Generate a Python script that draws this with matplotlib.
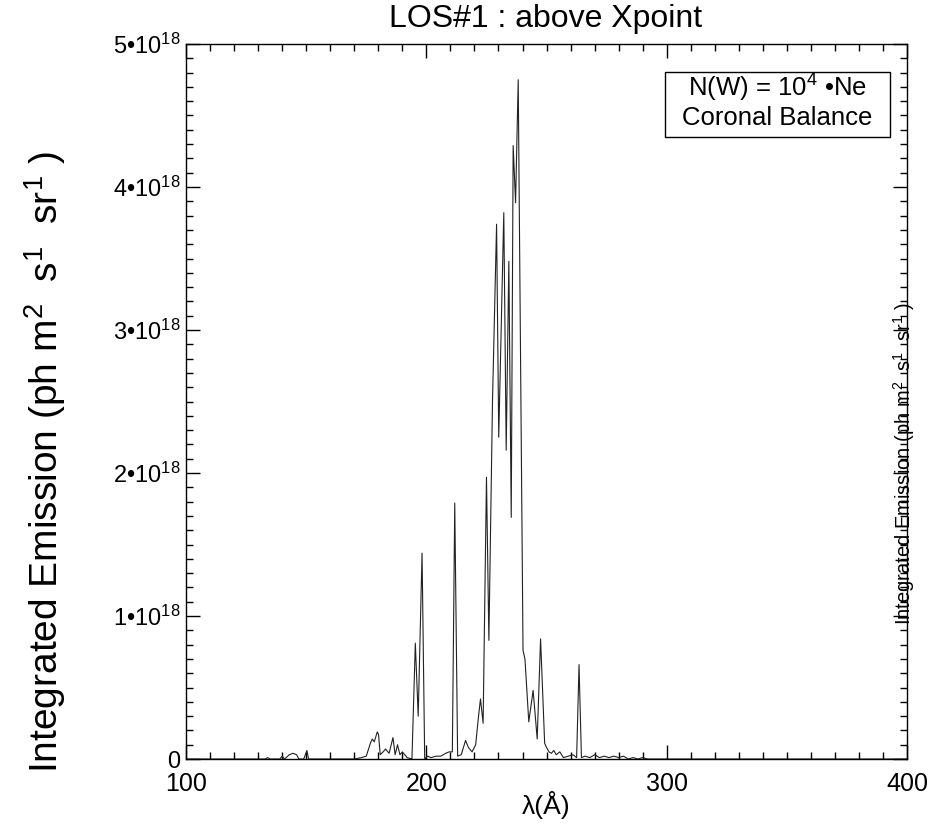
import matplotlib
matplotlib.use("Agg")
import matplotlib.pyplot as plt
from matplotlib.patches import Rectangle
from matplotlib.ticker import MultipleLocator, FuncFormatter

plt.rcParams['font.family'] = ['Liberation Sans', 'DejaVu Sans']
plt.rcParams['mathtext.fontset'] = 'custom'
plt.rcParams['mathtext.rm'] = 'Liberation Sans'
plt.rcParams['mathtext.it'] = 'Liberation Sans:italic'

# wavelength (Angstrom) and integrated emission (units of 1e18 ph m^2 s^1 sr^1)
wavelength = [100, 130, 133, 134, 135, 137, 139, 140, 141, 143, 144.5, 146, 147, 149,
              150.3, 151, 153, 170, 173, 175, 176.7, 177.5, 178.3, 179.6, 180.1, 180.8,
              182, 183, 184.5, 186.1, 187, 188, 189, 190, 192, 194, 195.4, 196.6, 198.2,
              199.3, 200.5, 202, 204, 206, 208, 209.5, 210.8, 211.8, 213.0, 214.5, 216.3,
              217.5, 219, 220.5, 221.7, 222.5, 223.6, 225, 226, 227.5, 229.2, 230.1,
              232.2, 233.2, 234.3, 235.3, 236.1, 237.1, 238.2, 240.2, 241, 242.6, 244.4,
              246.1, 247.5, 249.2, 250, 251, 252, 253, 254, 255.5, 257, 259, 261, 262.5,
              263.5, 264.5, 266, 268, 270, 272, 274, 276, 278, 280, 282, 284, 286, 288,
              290, 292, 300, 400]
emission = [0, 0, 0, 0.01, 0.0, 0, 0.0, 0.02, 0.0, 0.03, 0.04, 0.03, 0.0, 0.0,
            0.06, 0.0, 0, 0, 0.01, 0.02, 0.11, 0.14, 0.12, 0.19, 0.17, 0.03,
            0.05, 0.07, 0.04, 0.15, 0.03, 0.1, 0.03, 0.05, 0.01, 0.0, 0.81, 0.3, 1.44,
            0.0, 0.02, 0.01, 0.02, 0.02, 0.04, 0.05, 0.05, 1.79, 0.02, 0.03, 0.13,
            0.08, 0.05, 0.1, 0.3, 0.42, 0.25, 1.97, 0.83, 2.5, 3.74, 2.25,
            3.82, 2.16, 3.48, 1.69, 4.29, 3.89, 4.75, 0.76, 0.7, 0.26, 0.48,
            0.14, 0.84, 0.11, 0.08, 0.05, 0.04, 0.06, 0.03, 0.05, 0.01, 0.02, 0.03, 0.01,
            0.66, 0.01, 0.02, 0.01, 0.03, 0.01, 0.02, 0.01, 0.02, 0.01, 0.02, 0.0, 0.01, 0,
            0.01, 0, 0, 0]
emission = [v * 1e18 for v in emission]

legend_lines = ['N(W) = 10$^4$ •Ne', 'Coronal Balance']

fig = plt.figure(figsize=(9.36, 8.27), dpi=100)
ax = fig.add_axes([0.1987, 0.0822, 0.7705, 0.8646])

ax.plot(wavelength, emission, color='#222222', lw=0.8)

ax.set_xlim(100, 400)
ax.set_ylim(0, 5e18)
ax.xaxis.set_major_locator(MultipleLocator(100))
ax.xaxis.set_minor_locator(MultipleLocator(10))
ax.yaxis.set_major_locator(MultipleLocator(1e18))
ax.yaxis.set_minor_locator(MultipleLocator(1e17))


def yfmt(v, pos):
    n = int(round(v / 1e18))
    if n == 0:
        return '0'
    return '%d•10$^{18}$' % n


ax.yaxis.set_major_formatter(FuncFormatter(yfmt))
ax.tick_params(which='both', direction='in', top=True, right=True, width=1.0)
ax.tick_params(which='major', length=10)
ax.tick_params(which='minor', length=5)
ax.tick_params(axis='x', which='major', labelsize=18, pad=9)
ax.tick_params(axis='y', which='major', labelsize=17, pad=4)
for s in ax.spines.values():
    s.set_linewidth(1.0)

fig.text(0.583, 0.967, 'LOS#1 : above Xpoint', ha='center', va='baseline', fontsize=23)
fig.text(0.583, 0.026, 'λ(Å)', ha='center', va='center', fontsize=19)
fig.text(0.048, 0.441, 'Integrated Emission (ph m$^2$  s$^1$  sr$^1$ )', rotation=90,
         ha='center', va='center', fontsize=28)
fig.text(0.966, 0.44, 'Integrated Emission (ph m$^2$  s$^1$  sr$^1$ )', rotation=90,
         ha='center', va='center', fontsize=14.5)

# annotation box
ax.add_patch(Rectangle((0.664, 0.870), 0.312, 0.091, transform=ax.transAxes,
                       fill=False, ec='black', lw=1.0, zorder=5))
ax.text(0.82, 0.926, legend_lines[0], transform=ax.transAxes, ha='center',
        va='baseline', fontsize=18.5)
ax.text(0.82, 0.887, legend_lines[1], transform=ax.transAxes, ha='center',
        va='baseline', fontsize=18.5)

fig.savefig('out.png', dpi=100)
